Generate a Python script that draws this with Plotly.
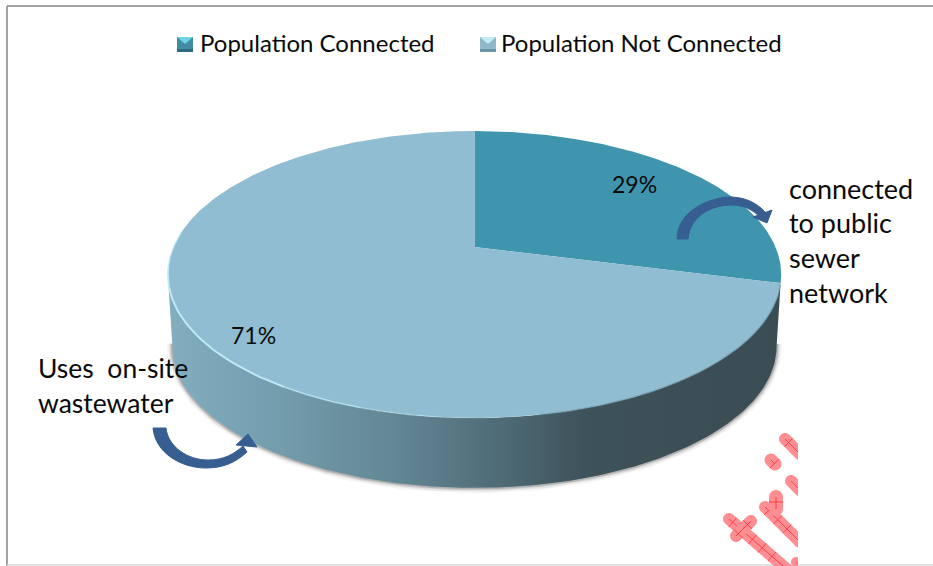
import numpy as np
import plotly.graph_objects as go

# Chart values
categories = ["Population Connected", "Population Not Connected"]
shares = [29, 71]
slice_labels = ["29%", "71%"]
slice_colors = ["#3F95AE", "#90BDD1"]
wall_colors = ["#82AEC0", "#76A0B1", "#628592", "#4D6A75", "#3E525A", "#3A4C54"]
wall_stops = [0.0, 0.15, 0.38, 0.55, 0.68, 1.0]

# Perspective disc: apex on screen, horizontal radius, vertical radius, depth foreshortening
APEX_X, APEX_Y = 474.5, 247.0
RX, RY, K = 301.0, 138.2, 0.1916
THICK_Y, THICK_S = 72.5, 0.985

# Page limits for the stamp fragments
CLIP_X, CLIP_Y = 798.0, 566.0
FONT = "Lato"
INK = "#0A0A0A"


def project(theta, lower=False):
    """Map clockwise angle from 12 o'clock (radians) on the disc to the page."""
    x = np.sin(theta)
    y = np.cos(theta)
    w = 1 + K * y
    s, dy = (THICK_S, THICK_Y) if lower else (1.0, 0.0)
    return APEX_X + s * RX * x / w, APEX_Y + dy - s * RY * y / w


def arc(start, stop, lower=False, n=200):
    return project(np.linspace(start, stop, n), lower)


fig = go.Figure()

# Angle of the disc's widest points, where the side wall begins and ends
edge = np.arccos(-K)
wall_start, wall_stop = edge, 2 * np.pi - edge

# Soft shadow along the outer rim
sx, sy = arc(wall_start - 0.02, wall_stop + 0.02, lower=True)
for width, alpha in [(11, 0.04), (8, 0.07), (5, 0.11), (3, 0.16)]:
    fig.add_trace(go.Scatter(x=sx, y=sy, mode="lines", hoverinfo="skip", showlegend=False,
                             line=dict(color=f"rgba(30,30,30,{alpha})", width=width)))

# Side wall with a left-to-right gradient
ux, uy = arc(wall_start, wall_stop)
lx, ly = arc(wall_start, wall_stop, lower=True)
fig.add_trace(go.Scatter(
    x=np.concatenate([ux, lx[::-1]]), y=np.concatenate([uy, ly[::-1]]),
    mode="lines", fill="toself", line=dict(width=0), hoverinfo="skip", showlegend=False,
    fillgradient=dict(type="horizontal", colorscale=[[p, c] for p, c in zip(wall_stops, wall_colors)]),
))

# Top face slices, clockwise from 12 o'clock
total = sum(shares)
angle = 0.0
for name, value, color in zip(categories, shares, slice_colors):
    sweep = 2 * np.pi * value / total
    ax, ay = arc(angle, angle + sweep, n=300)
    fig.add_trace(go.Scatter(
        x=np.concatenate([[APEX_X], ax, [APEX_X]]), y=np.concatenate([[APEX_Y], ay, [APEX_Y]]),
        mode="lines", fill="toself", fillcolor=color, line=dict(width=0),
        name=name, showlegend=False, hoverinfo="name",
    ))
    angle += sweep

# Rim bevel: bright on the left, fading out towards the front, muted on the right
for lo, hi, alpha, width in [(170, 185, 0.2, 1.2), (185, 198, 0.4, 1.4), (198, 212, 0.65, 1.6),
                             (212, 262, 0.9, 2.0), (262, 276, 0.7, 1.6)]:
    bx, by = arc(np.radians(lo), np.radians(hi), n=40)
    fig.add_trace(go.Scatter(x=bx, y=by, mode="lines", hoverinfo="skip", showlegend=False,
                             line=dict(color=f"rgba(195,238,250,{alpha})", width=width)))
bx, by = arc(np.radians(105), np.radians(170))
fig.add_trace(go.Scatter(x=bx, y=by, mode="lines", hoverinfo="skip", showlegend=False,
                         line=dict(color="rgba(110,150,168,0.6)", width=1.5)))


def icon(x0, y0, base, light, dark):
    """Bevelled legend key."""
    x1, y1 = x0 + 16, y0 + 15
    xm = (x0 + x1) / 2
    return [
        dict(type="rect", x0=x0, x1=x1, y0=y0, y1=y1, fillcolor=base, line_width=0),
        dict(type="path", path=f"M{x0},{y0} L{x1},{y0} L{xm},{y0+7} Z", fillcolor=light, line_width=0),
        dict(type="rect", x0=x0, x1=x1, y0=y1 - 3, y1=y1, fillcolor=dark, line_width=0),
    ]


def bent_arrow(body, head, color="#375E91"):
    return [
        dict(type="path", path=body, fillcolor=color, line=dict(color=color, width=1)),
        dict(type="path", path=head, fillcolor=color, line=dict(color=color, width=1)),
    ]


def stadium(x0, y0, x1, y1, half=6.0):
    """Rounded bar between two points, trimmed to the page limits."""
    heading = np.arctan2(y1 - y0, x1 - x0)
    t0 = np.linspace(heading + np.pi / 2, heading + 3 * np.pi / 2, 12)
    t1 = np.linspace(heading - np.pi / 2, heading + np.pi / 2, 12)
    px = np.concatenate([x0 + half * np.cos(t0), x1 + half * np.cos(t1)])
    py = np.concatenate([y0 + half * np.sin(t0), y1 + half * np.sin(t1)])
    # Densify the outline so trimming keeps the long edges straight
    idx = np.arange(len(px) + 1)
    fine = np.linspace(0, len(px), 1600)
    px = np.interp(fine, idx, np.append(px, px[0]))
    py = np.interp(fine, idx, np.append(py, py[0]))
    px, py = np.minimum(px, CLIP_X), np.minimum(py, CLIP_Y)
    return "M" + " L".join(f"{a:.1f},{b:.1f}" for a, b in zip(px, py)) + " Z"


def stamp_bar(x0, y0, x1, y1, half=6.0):
    """One bar of the pink stamp: rounded body with thin red cross-hatching."""
    red = dict(color="rgba(255,50,60,0.85)", width=1)
    out = [dict(type="path", path=stadium(x0, y0, x1, y1, half), fillcolor="#FF8E92", line_width=0)]
    length = np.hypot(x1 - x0, y1 - y0)
    dx, dy = (x1 - x0) / max(length, 1e-6), (y1 - y0) / max(length, 1e-6)
    ex = min(x1, CLIP_X) if dx > 0 else x1
    ey = y0 + (ex - x0) * (dy / dx) if dx else y1
    if ey > CLIP_Y:
        ey = CLIP_Y
        ex = x0 + (ey - y0) * (dx / dy)
    out.append(dict(type="line", x0=x0, y0=y0, x1=ex, y1=ey, line=red))
    for d in np.arange(5, max(length, 6), 13):
        cx, cy = x0 + dx * d, y0 + dy * d
        ax0, ay0 = cx - dy * half, cy + dx * half
        ax1, ay1 = cx + dy * half, cy - dx * half
        if max(ax0, ax1) <= CLIP_X and max(ay0, ay1) <= CLIP_Y:
            out.append(dict(type="line", x0=ax0, y0=ay0, x1=ax1, y1=ay1, line=red))
    return out


shapes = []
# Frame
shapes += [
    dict(type="line", x0=7, x1=7, y0=6, y1=566, line=dict(color="#A3A3A3", width=2)),
    dict(type="line", x0=7, x1=933, y0=6, y1=6, line=dict(color="#A3A3A3", width=2)),
    dict(type="line", x0=7, x1=933, y0=565, y1=565, line=dict(color="#D9D9D9", width=1.5)),
]
# Legend keys
shapes += icon(177, 37, "#3F8CA3", "#6FD3E8", "#2F6B7D")
shapes += icon(480, 37, "#8DB9CB", "#C4EAF4", "#6B95A6")
# Curved arrows
shapes += bent_arrow(
    "M677,239 C677,212 708,197 732,197 C750,198 760,206 767,214 L761,218 C752,209 744,205 730,205 "
    "C708,206 690,218 688,239 Z",
    "M753,217 L772,210 L767,223 Z",
)
shapes += bent_arrow(
    "M153,428 L166,428 C168,447 188,460 208,460 C224,460 234,454 243,446 L247,452 "
    "C236,462 224,468 206,468 C180,468 155,452 153,428 Z",
    "M236,445 L248,434 L257,447 Z",
)
# Stamp fragments, cut off at the page edge
shapes += stamp_bar(729, 519, 790, 572)
shapes += stamp_bar(751, 521, 736, 536)
shapes += stamp_bar(765, 507, 800, 542)
shapes += stamp_bar(776, 497, 776, 509, half=7)
shapes += stamp_bar(771, 460, 775, 464, half=6.5)
shapes += stamp_bar(791, 481, 802, 492)
shapes += stamp_bar(785, 439, 802, 456)
shapes += stamp_bar(796, 562, 802, 568, half=5)

annotations = [
    dict(x=634, y=184, text=slice_labels[0]),
    dict(x=253, y=335, text=slice_labels[1]),
]
annotations = [dict(a, font=dict(size=23, color=INK, family=FONT)) for a in annotations]
for i, line in enumerate(["connected", "to public", "sewer", "network"]):
    annotations.append(dict(x=787, y=188 + 34.7 * i, text=line, xanchor="left",
                            font=dict(size=27, color=INK, family=FONT)))
for i, line in enumerate(["Uses\u00a0 on-site", "wastewater"]):
    annotations.append(dict(x=36, y=368 + 35 * i, text=line, xanchor="left",
                            font=dict(size=26.5, color=INK, family=FONT)))
for x, name in zip([198, 499], categories):
    annotations.append(dict(x=x, y=42, text=name, xanchor="left",
                            font=dict(size=24, color=INK, family=FONT)))
for a in annotations:
    a.update(xref="x", yref="y", showarrow=False, yanchor="middle")

fig.update_layout(
    width=933, height=566, margin=dict(l=0, r=0, t=0, b=0),
    paper_bgcolor="white", plot_bgcolor="white", showlegend=False,
    xaxis=dict(range=[0, 933], visible=False, fixedrange=True),
    yaxis=dict(range=[566, 0], visible=False, fixedrange=True),
    shapes=shapes, annotations=annotations,
)
fig.write_html("out.html")
